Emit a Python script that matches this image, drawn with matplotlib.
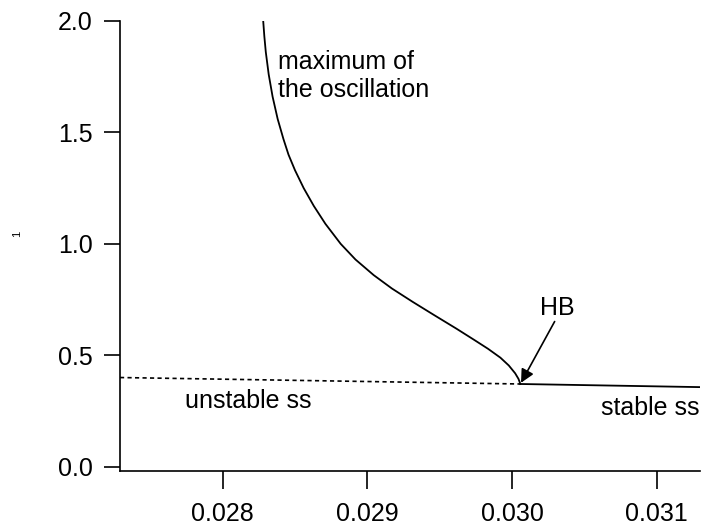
import matplotlib.pyplot as plt

plt.rcParams['font.family'] = ['Liberation Sans', 'DejaVu Sans']

# branch of periodic solutions (maximum of the oscillation)
osc_x = [0.028280, 0.028288, 0.028298, 0.028318, 0.028345, 0.028380, 0.028420,
         0.028455, 0.028500, 0.028560, 0.028630, 0.028710, 0.028816, 0.028918,
         0.029044, 0.029170, 0.029314, 0.029464, 0.029616, 0.029738, 0.029834,
         0.029920, 0.029978, 0.030022, 0.030045, 0.030058]
osc_y = [2.0, 1.93, 1.86, 1.76, 1.66, 1.56, 1.47,
         1.40, 1.33, 1.25, 1.17, 1.09, 1.00, 0.93,
         0.86, 0.80, 0.74, 0.68, 0.62, 0.57, 0.53,
         0.49, 0.455, 0.42, 0.395, 0.372]

# steady state branch
unstable_x = [0.02729, 0.030058]
unstable_y = [0.401, 0.372]
stable_x = [0.030058, 0.03130]
stable_y = [0.372, 0.358]

hb = (0.030058, 0.372)

fig = plt.figure(figsize=(7.04, 5.28), dpi=100)
ax = fig.add_axes([120 / 704, 1 - 471 / 528, 580 / 704, (471 - 20.8) / 528])

ax.plot(osc_x, osc_y, color='black', lw=1.3)
ax.plot(unstable_x, unstable_y, color='black', lw=1.2, ls=(0, (2.5, 2)))
ax.plot(stable_x, stable_y, color='black', lw=1.3)

ax.annotate('', xy=hb, xytext=(0.030295, 0.652),
            arrowprops=dict(arrowstyle='-|>', color='black', lw=1.2,
                            mutation_scale=20, shrinkA=0, shrinkB=1))
ax.text(0.030316, 0.713, 'HB', fontsize=18, ha='center', va='center')

ax.text(0.028383, 1.752, 'maximum of\nthe oscillation', fontsize=18, va='center', linespacing=1.2)
ax.text(0.027738, 0.297, 'unstable ss', fontsize=18, va='center')
ax.text(0.03130, 0.265, 'stable ss', fontsize=18, va='center', ha='right')

ax.set_xlim(0.02729, 0.03130)
ax.set_ylim(-0.018, 2.0)
ax.set_xticks([0.028, 0.029, 0.030, 0.031])
ax.set_xticklabels(['0.028', '0.029', '0.030', '0.031'])
ax.set_yticks([0.0, 0.5, 1.0, 1.5, 2.0])
ax.set_yticklabels(['0.0', '0.5', '1.0', '1.5', '2.0'])
ax.tick_params(axis='x', direction='out', length=13, width=1.2, labelsize=18, pad=9)
ax.tick_params(axis='y', direction='out', length=11.5, width=1.2, labelsize=18, pad=8)
ax.spines['top'].set_visible(False)
ax.spines['right'].set_visible(False)
ax.spines['left'].set_linewidth(1.2)
ax.spines['bottom'].set_linewidth(1.2)

fig.text(17 / 704, 1 - 234 / 528, '1', fontsize=8, rotation=90, ha='center', va='center')

fig.savefig('out.png', dpi=100)
